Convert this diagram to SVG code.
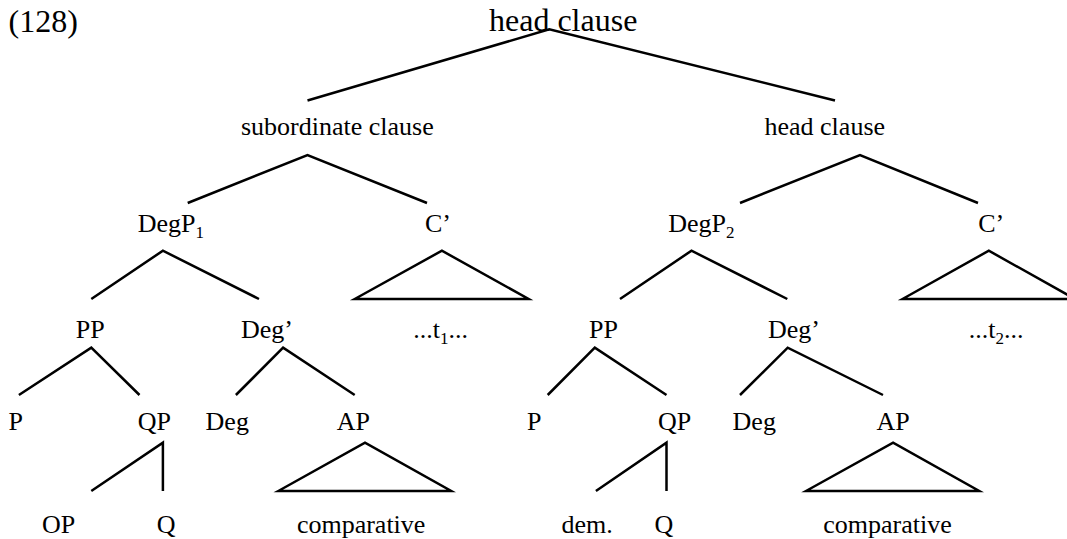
<svg xmlns="http://www.w3.org/2000/svg" width="1067" height="539" viewBox="0 0 1067 539">
<style>
text { font-family: "Liberation Serif", "Times New Roman", serif; font-size: 26px; fill: #000; }
.big { font-size: 32px; }
.sub { font-size: 17px; }
.edge { stroke: #000; stroke-width: 2.5; fill: none; stroke-linecap: butt; stroke-linejoin: miter; }
</style>
<rect width="1067" height="539" fill="#fff"/>
<g id="label-128"><text class="big" x="8.6" y="31.7">(128)</text></g>
<g id="n-root"><text class="big" x="489" y="31">head clause</text></g>
<g id="n-sub"><text x="241" y="135">subordinate clause</text></g>
<g id="n-head"><text x="764.5" y="135">head clause</text></g>
<g id="n-degp1"><text x="137.8" y="232">DegP<tspan class="sub" dy="6">1</tspan></text></g>
<g id="n-c1"><text x="425" y="232">C’</text></g>
<g id="n-degp2"><text x="668.2" y="232">DegP<tspan class="sub" dy="6">2</tspan></text></g>
<g id="n-c2"><text x="978.2" y="232">C’</text></g>
<g id="n-pp1"><text x="75.8" y="338">PP</text></g>
<g id="n-degbar1"><text x="241" y="338">Deg’</text></g>
<g id="n-t1"><text x="413.3" y="338">...t<tspan class="sub" dy="6">1</tspan><tspan dy="-6">...</tspan></text></g>
<g id="n-pp2"><text x="589" y="338">PP</text></g>
<g id="n-degbar2"><text x="768" y="338">Deg’</text></g>
<g id="n-t2"><text x="968.8" y="338">...t<tspan class="sub" dy="6">2</tspan><tspan dy="-6">...</tspan></text></g>
<g id="n-p1"><text x="8.6" y="430">P</text></g>
<g id="n-qp1"><text x="137.8" y="430">QP</text></g>
<g id="n-deg1"><text x="205.6" y="430">Deg</text></g>
<g id="n-ap1"><text x="336.8" y="430">AP</text></g>
<g id="n-p2"><text x="527" y="430">P</text></g>
<g id="n-qp2"><text x="657.9" y="430">QP</text></g>
<g id="n-deg2"><text x="732.6" y="430">Deg</text></g>
<g id="n-ap2"><text x="876.6" y="430">AP</text></g>
<g id="n-op"><text x="42" y="533">OP</text></g>
<g id="n-q1"><text x="156.7" y="533">Q</text></g>
<g id="n-comp1"><text x="296.9" y="533">comparative</text></g>
<g id="n-dem"><text x="561.4" y="533">dem.</text></g>
<g id="n-q2"><text x="654.4" y="533">Q</text></g>
<g id="n-comp2"><text x="823.2" y="533">comparative</text></g>
<g id="connectors" class="edge">
<polyline class="edge" points="307.5,100.5 549.3,29.3 835,100.5"/>
<polyline class="edge" points="187.7,203 307.5,155 427,203"/>
<polyline class="edge" points="740,203 860,155 978,203"/>
<polyline class="edge" points="91.3,299 162.9,250.7 259,299"/>
<polygon class="edge" points="354.7,299 441.9,250.7 528.6,299"/>
<polyline class="edge" points="620,299 691.5,250.7 787.3,299"/>
<polygon class="edge" points="902.5,299 988.8,250.7 1075,299"/>
<polyline class="edge" points="18.9,395 91.3,347.7 139.5,395"/>
<polyline class="edge" points="235.9,395 283.1,347.7 354.7,395"/>
<polyline class="edge" points="547.7,395 594.8,347.7 666.5,395"/>
<polyline class="edge" points="740,395 787.7,347.7 883,395"/>
<polyline class="edge" points="91.3,491 162.9,442.7 162.9,491"/>
<polygon class="edge" points="278.3,491 365,442.7 451.2,491"/>
<polyline class="edge" points="595.9,491 666.5,442.7 666.5,491"/>
<polygon class="edge" points="806,491 893.1,442.7 979.2,491"/>
</g>
</svg>
